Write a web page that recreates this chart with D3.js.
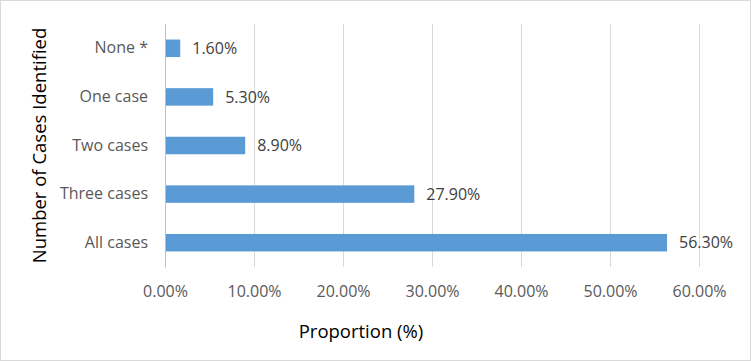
<!DOCTYPE html>
<html>
<head>
<meta charset="utf-8">
<script src="https://cdn.jsdelivr.net/npm/d3@7"></script>
<style>
  body { margin: 0; background: #fff; }
  text { font-family: "Open Sans", sans-serif; }
</style>
</head>
<body>
<div id="chart"></div>
<script>
// data
var categories = ["None *", "One case", "Two cases", "Three cases", "All cases"];
var proportions = [1.6, 5.3, 8.9, 27.9, 56.3];
var xTicks = [0, 10, 20, 30, 40, 50, 60];

var W = 751, H = 361;
var margin = {top: 24, right: 52, bottom: 94, left: 165},
    width = W - margin.left - margin.right,
    height = H - margin.top - margin.bottom;

var svg = d3.select("#chart").append("svg")
    .attr("width", W)
    .attr("height", H);

// chart border
svg.append("rect")
    .attr("x", 0.5).attr("y", 0.5)
    .attr("width", W - 1).attr("height", H - 1)
    .attr("fill", "#fff")
    .attr("stroke", "#d9d9d9");

var g = svg.append("g")
    .attr("transform", "translate(" + margin.left + "," + margin.top + ")");

var x = d3.scaleLinear().domain([0, 60]).range([0, width]);
var y = d3.scaleBand().domain(categories).range([0, height]).paddingInner(0.64).paddingOuter(0.32);

// vertical gridlines
g.selectAll(".grid")
  .data(xTicks)
  .enter().append("line")
    .attr("x1", function(d) { return Math.round(x(d)) + 0.5; })
    .attr("x2", function(d) { return Math.round(x(d)) + 0.5; })
    .attr("y1", 0).attr("y2", height)
    .attr("stroke", "#d9d9d9")
    .attr("stroke-width", 1);

// x axis labels
var xAxis = g.append("g")
    .attr("transform", "translate(0," + height + ")")
    .call(d3.axisBottom(x).tickValues(xTicks).tickSize(0).tickPadding(19)
      .tickFormat(function(d) { return d.toFixed(2) + "%"; }));
xAxis.select(".domain").remove();
xAxis.selectAll("text")
    .style("font-size", "16px")
    .attr("fill", "#595959");

// y axis labels
var yAxis = g.append("g")
    .call(d3.axisLeft(y).tickSize(0).tickPadding(17));
yAxis.select(".domain").attr("stroke", "#bfbfbf");
yAxis.selectAll("text")
    .style("font-size", "16px")
    .attr("fill", "#595959");

// bars
g.selectAll(".bar")
  .data(proportions)
  .enter().append("rect")
    .attr("x", 1)
    .attr("y", function(d, i) { return y(categories[i]); })
    .attr("width", function(d) { return x(d); })
    .attr("height", y.bandwidth())
    .attr("fill", "#5b9bd5");

// data labels
g.selectAll(".lbl")
  .data(proportions)
  .enter().append("text")
    .attr("x", function(d) { return x(d) + 13; })
    .attr("y", function(d, i) { return y(categories[i]) + y.bandwidth() / 2; })
    .attr("dy", "0.35em")
    .style("font-size", "16px")
    .attr("fill", "#404040")
    .text(function(d) { return d.toFixed(2) + "%"; });

// axis titles
svg.append("text")
    .attr("x", 361)
    .attr("y", 332)
    .attr("text-anchor", "middle")
    .attr("dy", "0.35em")
    .style("font-size", "18.5px")
    .attr("fill", "#000")
    .text("Proportion (%)");

svg.append("text")
    .attr("transform", "translate(40," + (margin.top + height / 2) + ") rotate(-90)")
    .attr("text-anchor", "middle")
    .attr("dy", "0.35em")
    .style("font-size", "18.5px")
    .attr("fill", "#000")
    .text("Number of Cases Identified");
</script>
</body>
</html>
